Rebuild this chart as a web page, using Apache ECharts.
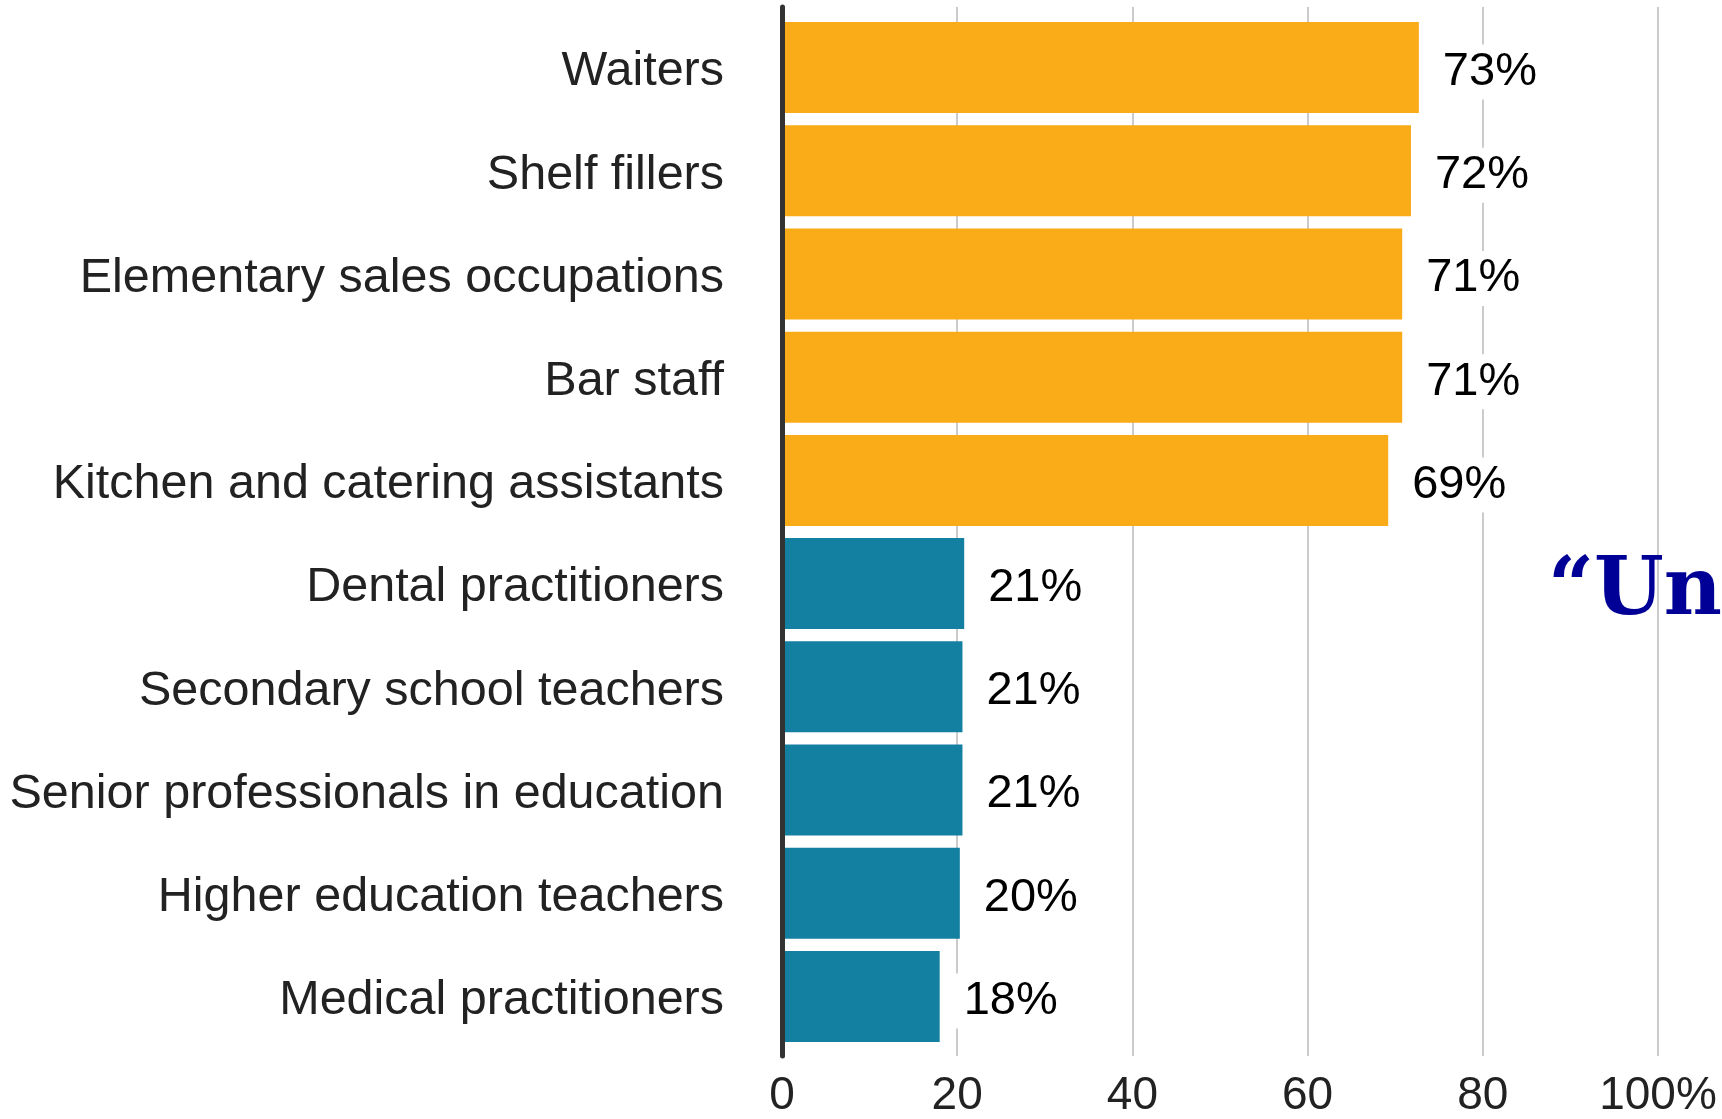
<!DOCTYPE html>
<html>
<head>
<meta charset="utf-8">
<script src="https://cdn.jsdelivr.net/npm/echarts@6/dist/echarts.min.js"></script>
<style>
html,body{margin:0;padding:0;background:#fff;}
#chart{width:1722px;height:1119px;}
</style>
</head>
<body>
<div id="chart"></div>
<script>
const categories = ["Waiters","Shelf fillers","Elementary sales occupations","Bar staff","Kitchen and catering assistants","Dental practitioners","Secondary school teachers","Senior professionals in education","Higher education teachers","Medical practitioners"];
const values = [72.7, 71.8, 70.8, 70.8, 69.2, 20.8, 20.6, 20.6, 20.3, 18.0];
const groups = ["high","high","high","high","high","low","low","low","low","low"];
const xTicks = [0, 20, 40, 60, 80, 100];
const quoteText = "\u201CUnpredictable\u201D";

const groupColor = {high: "#FAAB18", low: "#1380A1"};
const chart = echarts.init(document.getElementById('chart'), null, {renderer: 'canvas'});
const font = "'Liberation Sans', Arial, Helvetica, sans-serif";

chart.setOption({
  backgroundColor: '#ffffff',
  animation: false,
  grid: [
    {left: 782, right: 64, top: 7, bottom: 62, z: 5},
    {left: 782, right: 64, top: 16, bottom: 71}
  ],
  xAxis: [
    {
      gridIndex: 0, type: 'value', min: xTicks[0], max: xTicks[xTicks.length-1], interval: 20,
      axisLine: {show: false}, axisTick: {show: false},
      splitLine: {show: true, lineStyle: {color: '#cbcbcb', width: 2}},
      axisLabel: {
        fontFamily: font, fontSize: 46, color: '#222222', margin: 17, lineHeight: 46,
        formatter: v => v === 100 ? '100%' : String(v)
      },
      z: 0
    },
    {
      gridIndex: 1, type: 'value', min: xTicks[0], max: xTicks[xTicks.length-1],
      show: false
    }
  ],
  yAxis: [
    {
      gridIndex: 0, type: 'value', min: 0, max: 1,
      axisLine: {show: true, lineStyle: {color: '#333333', width: 5}},
      axisTick: {show: false}, axisLabel: {show: false}, splitLine: {show: false},
      z: 10
    },
    {
      gridIndex: 1, type: 'category', data: categories, inverse: true,
      axisLine: {show: false}, axisTick: {show: false}, splitLine: {show: false},
      axisLabel: {fontFamily: font, fontSize: 48.5, color: '#222222', margin: 58,
                  verticalAlign: 'top', lineHeight: 9}
    }
  ],
  series: [
    {
      type: 'bar', xAxisIndex: 1, yAxisIndex: 1,
      barCategoryGap: '11.8%',
      data: values.map((v, i) => ({value: v, itemStyle: {color: groupColor[groups[i]]}})),
      label: {
        show: true, position: 'right', distance: 10, offset: [0, 4.5],
        fontFamily: font, fontSize: 47, color: '#000000',
        backgroundColor: '#ffffff', padding: [4, 10, 4, 14],
        formatter: p => Math.round(p.value) + '%'
      },
      z: 3
    }
  ],
  graphic: [
    {
      type: 'text', left: 1548, top: 553, z: 10,
      style: {
        text: quoteText, fill: '#000096',
        font: "bold 80px 'DejaVu Serif', serif",
        verticalAlign: 'middle'
      }
    }
  ]
});
</script>
</body>
</html>
